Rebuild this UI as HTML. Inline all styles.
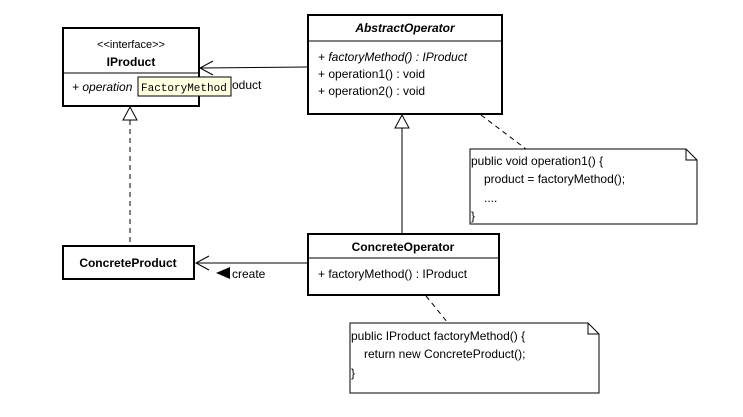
<!DOCTYPE html>
<html><head><meta charset="utf-8"><style>
html,body{margin:0;padding:0;background:#fff;}
svg{display:block;font-family:"Liberation Sans",Arial,sans-serif;}
</style></head><body>
<svg width="743" height="417" viewBox="0 0 743 417" xmlns="http://www.w3.org/2000/svg">
<rect width="743" height="417" fill="#fff"/>
<!-- IProduct -->
<rect x="63" y="28" width="136" height="78" fill="#fff" stroke="#000" stroke-width="2"/>
<line x1="63" y1="73" x2="199" y2="73" stroke="#000" stroke-width="1"/>
<text x="131" y="48" font-size="11" text-anchor="middle">&lt;&lt;interface&gt;&gt;</text>
<text x="131" y="66" font-size="12" font-weight="bold" text-anchor="middle">IProduct</text>
<text x="72" y="91" font-size="12" font-style="italic">+ operation</text>
<text x="232" y="89" font-size="12">oduct</text>
<rect x="138" y="77" width="93" height="19" fill="#ffffe1" stroke="#000" stroke-width="1"/>
<text x="141" y="91" font-size="11" font-family="Liberation Mono,monospace">FactoryMethod</text>
<!-- AbstractOperator -->
<rect x="308" y="15" width="194" height="99" fill="#fff" stroke="#000" stroke-width="2"/>
<line x1="308" y1="41" x2="502" y2="41" stroke="#000"/>
<text x="405" y="32" font-size="12" font-weight="bold" font-style="italic" text-anchor="middle">AbstractOperator</text>
<text x="318" y="61" font-size="12" font-style="italic">+ factoryMethod() : IProduct</text>
<text x="318" y="78" font-size="12">+ operation1() : void</text>
<text x="318" y="95" font-size="12">+ operation2() : void</text>
<!-- assoc AbstractOperator -> IProduct -->
<line x1="201" y1="68" x2="308" y2="67" stroke="#000"/>
<polyline points="213,61 200,68 213,75" fill="none" stroke="#000"/>
<!-- ConcreteProduct -->
<rect x="63" y="246" width="131" height="33" fill="#fff" stroke="#000" stroke-width="2"/>
<text x="128" y="267" font-size="12" font-weight="bold" text-anchor="middle">ConcreteProduct</text>
<!-- realization -->
<line x1="130" y1="120" x2="130" y2="246" stroke="#000" stroke-dasharray="5,4"/>
<polygon points="130,107 123,120 137,120" fill="#fff" stroke="#000"/>
<!-- ConcreteOperator -->
<rect x="308" y="234" width="191" height="61" fill="#fff" stroke="#000" stroke-width="2"/>
<line x1="308" y1="258" x2="499" y2="258" stroke="#000"/>
<text x="403" y="251" font-size="12" font-weight="bold" text-anchor="middle">ConcreteOperator</text>
<text x="318" y="278" font-size="12">+ factoryMethod() : IProduct</text>
<!-- generalization -->
<line x1="402" y1="128" x2="402" y2="234" stroke="#000"/>
<polygon points="402,115 395,128 409,128" fill="#fff" stroke="#000"/>
<!-- create -->
<line x1="196" y1="263" x2="308" y2="263" stroke="#000"/>
<polyline points="209,256 196,263 209,270" fill="none" stroke="#000"/>
<polygon points="216,273 230,267 230,279" fill="#000"/>
<text x="232" y="278" font-size="12">create</text>
<!-- note1 -->
<line x1="481" y1="115" x2="526" y2="149" stroke="#000" stroke-dasharray="5,4"/>
<polygon points="470,149 686,149 697,160 697,224 470,224" fill="#fff" stroke="#000"/>
<polyline points="686,149 686,160 697,160" fill="none" stroke="#000"/>
<text x="471" y="165" font-size="12">public void operation1() {</text>
<text x="484" y="183" font-size="12">product = factoryMethod();</text>
<text x="484" y="202" font-size="12">....</text>
<text x="471" y="220" font-size="12">}</text>
<!-- note2 -->
<line x1="426" y1="296" x2="448" y2="323" stroke="#000" stroke-dasharray="5,4"/>
<polygon points="350,323 588,323 599,334 599,393 350,393" fill="#fff" stroke="#000"/>
<polyline points="588,323 588,334 599,334" fill="none" stroke="#000"/>
<text x="351" y="340" font-size="12">public IProduct factoryMethod() {</text>
<text x="364" y="358" font-size="12">return new ConcreteProduct();</text>
<text x="351" y="377" font-size="12">}</text>
</svg>
</body></html>
